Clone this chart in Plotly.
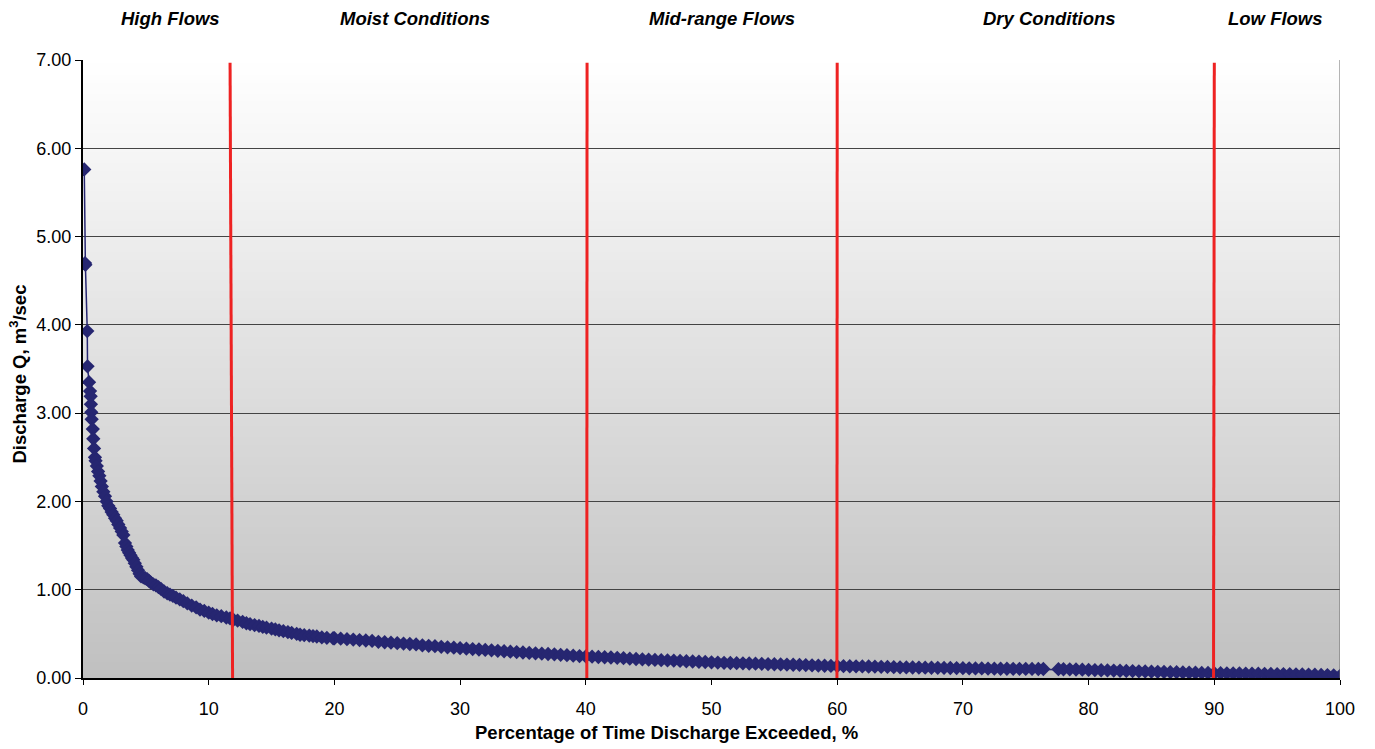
import plotly.graph_objects as go

# Flow duration curve: percentage of time exceeded vs discharge
pct_exceeded = [
    0.10, 0.16, 0.19, 0.34, 0.36, 0.48, 0.56, 0.61, 0.63, 0.66, 0.69, 0.78, 0.82, 0.88, 0.95,
    1.00, 1.10, 1.20, 1.30, 1.40, 1.50, 1.62, 1.75, 1.88, 2.01, 2.15, 2.28, 2.41, 2.55, 2.68,
    2.81, 2.95, 3.08, 3.21, 3.34, 3.45, 3.56, 3.67, 3.78, 3.90, 4.00, 4.12, 4.25, 4.38, 4.50,
    4.62, 4.80, 4.95, 5.10, 5.25, 5.40, 5.60, 5.80, 6.00, 6.20, 6.45, 6.70, 6.92, 7.15, 7.40,
    7.70, 7.98, 8.30, 8.65, 9.00, 9.31, 9.65, 10.00, 10.30, 10.64, 11.00, 11.40, 11.70, 11.96,
    12.30, 12.70, 13.00, 13.29, 13.65, 14.00, 14.30, 14.60, 15.00, 15.30, 15.60, 15.94, 16.30,
    16.60, 17.00, 17.27, 17.60, 18.00, 18.30, 18.60, 19.00, 19.40, 19.90,
    20.0, 20.5, 21.0, 21.5, 22.0, 22.5, 23.0, 23.5, 24.0, 24.5, 25.0, 25.5, 26.0, 26.5, 27.0,
    27.5, 28.0, 28.5, 29.0, 29.5, 30.0, 30.5, 31.0, 31.5, 32.0, 32.5, 33.0, 33.5, 34.0, 34.5,
    35.0, 35.5, 36.0, 36.5, 37.0, 37.5, 38.0, 38.5, 39.0, 39.5, 40.0, 40.5, 41.0, 41.5, 42.0,
    42.5, 43.0, 43.5, 44.0, 44.5, 45.0, 45.5, 46.0, 46.5, 47.0, 47.5, 48.0, 48.5, 49.0, 49.5,
    50.0, 50.5, 51.0, 51.5, 52.0, 52.5, 53.0, 53.5, 54.0, 54.5, 55.0, 55.5, 56.0, 56.5, 57.0,
    57.5, 58.0, 58.5, 59.0, 59.5, 60.0, 60.5, 61.0, 61.5, 62.0, 62.5, 63.0, 63.5, 64.0, 64.5,
    65.0, 65.5, 66.0, 66.5, 67.0, 67.5, 68.0, 68.5, 69.0, 69.5, 70.0, 70.5, 71.0, 71.5, 72.0,
    72.5, 73.0, 73.5, 74.0, 74.5, 75.0, 75.5, 76.0, 76.4,
    77.6, 78.0, 78.5, 79.0, 79.5, 80.0, 80.5, 81.0, 81.5, 82.0, 82.5, 83.0, 83.5, 84.0, 84.5,
    85.0, 85.5, 86.0, 86.5, 87.0, 87.5, 88.0, 88.5, 89.0, 89.5, 90.0, 90.5, 91.0, 91.5, 92.0,
    92.5, 93.0, 93.5, 94.0, 94.5, 95.0, 95.5, 96.0, 96.5, 97.0, 97.5, 98.0, 98.5, 99.0, 99.5,
    100.0,
]

discharge = [
    5.76, 4.70, 4.68, 3.93, 3.53, 3.35, 3.25, 3.19, 3.10, 3.01, 2.93, 2.82, 2.71, 2.60, 2.50,
    2.46, 2.40, 2.34, 2.29, 2.23, 2.17, 2.11, 2.06, 2.00, 1.95, 1.92, 1.88, 1.85, 1.81, 1.78,
    1.74, 1.70, 1.66, 1.62, 1.53, 1.49, 1.45, 1.42, 1.39, 1.36, 1.34, 1.30, 1.26, 1.22, 1.18,
    1.15, 1.14, 1.13, 1.12, 1.10, 1.08, 1.06, 1.05, 1.03, 1.01, 0.98, 0.96, 0.945, 0.93, 0.91,
    0.89, 0.87, 0.845, 0.82, 0.80, 0.775, 0.76, 0.74, 0.725, 0.71, 0.70, 0.685, 0.675, 0.66,
    0.65, 0.635, 0.62, 0.61, 0.60, 0.59, 0.58, 0.57, 0.56, 0.55, 0.54, 0.53, 0.52,
    0.51, 0.50, 0.49, 0.485, 0.48, 0.475, 0.47, 0.46, 0.455, 0.45,
    0.45, 0.445, 0.44, 0.435, 0.43, 0.425, 0.42, 0.41, 0.405, 0.40, 0.395, 0.39, 0.385, 0.38, 0.37,
    0.365, 0.36, 0.353, 0.348, 0.343, 0.338, 0.333, 0.328, 0.323, 0.318, 0.313, 0.308, 0.303, 0.298, 0.294,
    0.289, 0.284, 0.28, 0.276, 0.272, 0.268, 0.263, 0.258, 0.253, 0.248, 0.244, 0.241, 0.238, 0.235, 0.232,
    0.228, 0.224, 0.219, 0.215, 0.212, 0.208, 0.205, 0.202, 0.199, 0.196, 0.193, 0.19, 0.187, 0.184, 0.181,
    0.178, 0.175, 0.172, 0.17, 0.168, 0.166, 0.164, 0.162, 0.16, 0.158, 0.156, 0.154, 0.152, 0.15, 0.148,
    0.146, 0.144, 0.141, 0.139, 0.137, 0.135, 0.134, 0.133, 0.132, 0.131, 0.13, 0.128, 0.127, 0.125, 0.123,
    0.121, 0.12, 0.119, 0.118, 0.117, 0.116, 0.115, 0.114, 0.113, 0.112, 0.111, 0.11, 0.109, 0.108, 0.107,
    0.106, 0.105, 0.105, 0.104, 0.104, 0.103, 0.103, 0.102, 0.102,
    0.100, 0.099, 0.098, 0.096, 0.094, 0.092, 0.09, 0.088, 0.086, 0.084, 0.082, 0.08, 0.078, 0.076, 0.074,
    0.072, 0.07, 0.068, 0.066, 0.065, 0.063, 0.061, 0.06, 0.058, 0.057, 0.055, 0.054, 0.053, 0.052, 0.051,
    0.05, 0.049, 0.048, 0.047, 0.046, 0.045, 0.044, 0.043, 0.042, 0.041, 0.039, 0.037, 0.035, 0.033, 0.03,
    0.025,
]

# Flow-regime boundaries (bottom / top x of each divider) and zone labels
zone_bounds_bottom = [11.9, 40.08, 59.98, 89.94]
zone_bounds_top = [11.7, 40.1, 60.0, 90.0]
zone_labels = ["High Flows", "Moist Conditions", "Mid-range Flows", "Dry Conditions", "Low Flows"]
zone_label_x = [7.0, 26.4, 50.8, 76.9, 94.9]

x_ticks = [0, 10, 20, 30, 40, 50, 60, 70, 80, 90, 100]
y_ticks = [0, 1, 2, 3, 4, 5, 6, 7]

FONT = "Liberation Sans, Arial, sans-serif"
NAVY = "#262671"
RED = "#ee2222"

W, H = 1375, 749
M_L, M_R, M_T, M_B = 83, 35, 60, 71
plot_w = W - M_L - M_R
plot_h = H - M_T - M_B

fig = go.Figure()

fig.add_trace(go.Scatter(
    x=pct_exceeded,
    y=discharge,
    mode="lines+markers",
    line=dict(color=NAVY, width=1.5),
    marker=dict(symbol="diamond", size=11, color=NAVY, line=dict(width=0)),
    showlegend=False,
    hoverinfo="skip",
))

shapes = []
# vertical white-to-grey gradient behind the plot (bands overlap slightly to avoid seams)
n_bands = 160
y_top = 7.0
for i in range(n_bands):
    f = (i + 0.5) / n_bands
    c = int(round(255 - (255 - 192) * f))
    y1 = y_top * (1 - i / n_bands) + 0.01
    y0 = y_top * (1 - (i + 1) / n_bands)
    shapes.append(dict(
        type="rect", xref="x", yref="y", x0=0, x1=100, y0=max(y0, 0), y1=min(y1, y_top),
        fillcolor=f"rgb({c},{c},{c})", line=dict(width=0), layer="below",
    ))

# right border of the plot area
shapes.append(dict(type="line", xref="x", yref="y", x0=100, x1=100, y0=0, y1=7,
                   line=dict(color="#6a6a6a", width=1)))

# flow-regime dividers
for xb, xt in zip(zone_bounds_bottom, zone_bounds_top):
    shapes.append(dict(type="line", xref="x", yref="y", x0=xb, x1=xt, y0=0, y1=6.97,
                       line=dict(color=RED, width=3)))

annotations = []
for label, lx in zip(zone_labels, zone_label_x):
    annotations.append(dict(
        text=f"<b><i>{label}</i></b>", x=lx, xref="x",
        y=1 + (M_T - 18) / plot_h, yref="paper",
        yanchor="middle", xanchor="center", showarrow=False,
        font=dict(family=FONT, size=18.5, color="#000000"),
    ))

annotations.append(dict(
    text="<b>Percentage of Time Discharge Exceeded, %</b>",
    xref="paper", yref="paper", x=(666.5 - M_L) / plot_w, y=-(733 - 678) / plot_h,
    xanchor="center", yanchor="middle", showarrow=False,
    font=dict(family=FONT, size=18.5, color="#000000"),
))
annotations.append(dict(
    text="<b>Discharge Q, m<sup>3</sup>/sec</b>",
    xref="paper", yref="paper", x=-(M_L - 18.5) / plot_w, y=(678 - 374) / plot_h,
    xanchor="center", yanchor="middle", showarrow=False, textangle=-90,
    font=dict(family=FONT, size=18.5, color="#000000"),
))

fig.update_layout(
    width=W,
    height=H,
    margin=dict(l=M_L, r=M_R, t=M_T, b=M_B),
    paper_bgcolor="white",
    plot_bgcolor="white",
    font=dict(family=FONT, size=18, color="#000000"),
    shapes=shapes,
    annotations=annotations,
    showlegend=False,
)

fig.update_xaxes(
    range=[0, 100],
    tickvals=x_ticks,
    ticktext=[str(t) for t in x_ticks],
    ticks="outside", ticklen=5, tickwidth=1, tickcolor="#000000",
    ticklabelstandoff=8,
    showgrid=False, zeroline=False,
    showline=True, linecolor="#000000", linewidth=2, mirror=False,
    tickfont=dict(family=FONT, size=18),
)
fig.update_yaxes(
    range=[0, 7],
    tickvals=y_ticks,
    ticktext=[f"{t:.2f}" for t in y_ticks],
    ticks="outside", ticklen=6, tickwidth=1, tickcolor="#000000",
    showgrid=True, gridcolor="#444444", gridwidth=1,
    zeroline=False,
    showline=True, linecolor="#000000", linewidth=2,
    tickfont=dict(family=FONT, size=18),
)

fig.write_html("out.html")
